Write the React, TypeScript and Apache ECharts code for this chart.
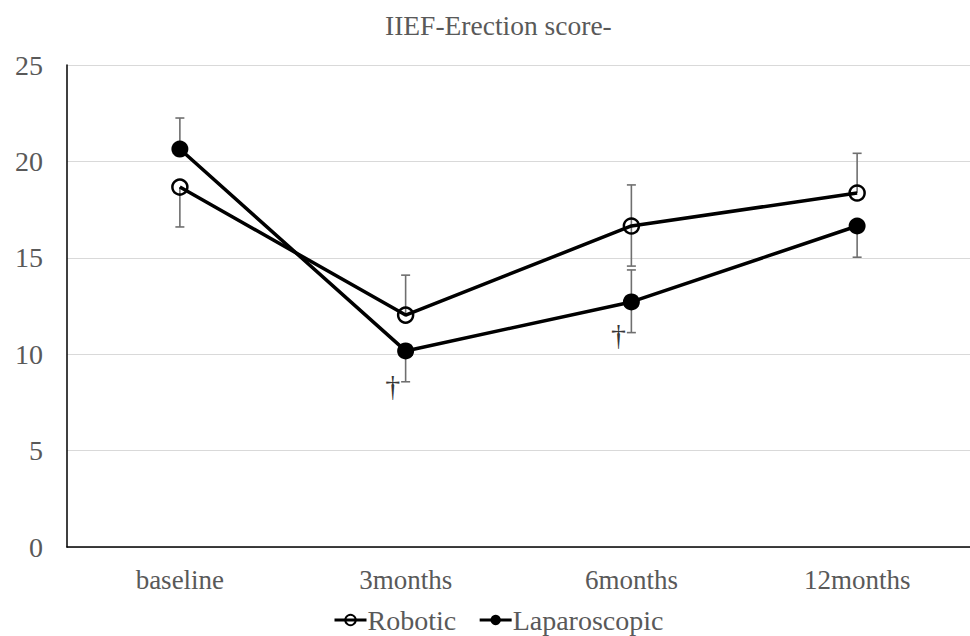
import React, { useEffect, useRef } from "react";
import * as echarts from "echarts";

const categories = ["baseline", "3months", "6months", "12months"];
const yTicks = [0, 5, 10, 15, 20, 25];
const robotic = [18.67, 12.03, 16.65, 18.36];
const laparoscopic = [20.64, 10.17, 12.71, 16.65];
// error bar ends (null = not drawn)
const roboticErrLow = [16.6, null, 14.57, null];
const roboticErrHigh = [null, 14.1, 18.78, 20.42];
const lapErrLow = [null, 8.57, 11.12, 15.03];
const lapErrHigh = [22.25, null, 14.37, null];
// significance markers: [categoryIndex, value]
const daggers = [
  [1, 8.35],
  [2, 10.95],
];

const FONT = "'Liberation Serif', 'Times New Roman', serif";
const GRAY = "#595959";

export default function App() {
  const ref = useRef<HTMLDivElement>(null);
  useEffect(() => {
    const chart = echarts.init(ref.current!, null, { renderer: "svg" });
    const errData: number[][] = [];
    const addErr = (means: number[], lows: (number | null)[], highs: (number | null)[]) => {
      means.forEach((m, j) => {
        if (lows[j] != null) errData.push([j, m, lows[j] as number]);
        if (highs[j] != null) errData.push([j, m, highs[j] as number]);
      });
    };
    addErr(robotic, roboticErrLow, roboticErrHigh);
    addErr(laparoscopic, lapErrLow, lapErrHigh);

    chart.setOption({
      animation: false,
      backgroundColor: "#ffffff",
      title: {
        text: "IIEF-Erection score-",
        left: 380,
        top: 6,
        textStyle: { fontFamily: FONT, fontSize: 27.5, fontWeight: "normal", color: GRAY },
      },
      legend: {
        top: 606,
        left: 333,
        padding: 0,
        itemWidth: 32,
        itemHeight: 13,
        itemGap: 22,
        lineStyle: { width: 3 },
        textStyle: { fontFamily: FONT, fontSize: 28, color: GRAY, padding: [0, 0, 0, -4] },
        data: ["Robotic", "Laparoscopic"],
      },
      grid: { left: 67, right: 0, top: 65, bottom: 89, containLabel: false },
      xAxis: {
        type: "category",
        data: categories,
        boundaryGap: true,
        axisLine: { show: true, lineStyle: { color: "#000", width: 1.5 } },
        axisTick: { show: false },
        axisLabel: { fontFamily: FONT, fontSize: 27, color: GRAY, margin: 19 },
      },
      yAxis: {
        type: "value",
        min: yTicks[0],
        max: yTicks[yTicks.length - 1],
        interval: 5,
        axisLine: { show: true, lineStyle: { color: "#000", width: 1.5 } },
        axisTick: { show: false },
        axisLabel: { fontFamily: FONT, fontSize: 28, color: GRAY, margin: 24 },
        splitLine: { lineStyle: { color: "#d9d9d9", width: 1.2 } },
      },
      series: [
        {
          type: "custom",
          name: "err",
          z: 1,
          silent: true,
          data: errData,
          renderItem: (params: any, api: any) => {
            const p0 = api.coord([api.value(0), api.value(1)]);
            const p1 = api.coord([api.value(0), api.value(2)]);
            const style = { stroke: "#6f6f6f", lineWidth: 1.6 };
            return {
              type: "group",
              children: [
                { type: "line", shape: { x1: p0[0], y1: p0[1], x2: p1[0], y2: p1[1] }, style },
                { type: "line", shape: { x1: p1[0] - 4.5, y1: p1[1], x2: p1[0] + 4.5, y2: p1[1] }, style },
              ],
            };
          },
        },
        {
          type: "line",
          name: "Robotic",
          data: robotic,
          z: 3,
          symbol: "circle",
          symbolSize: 15,
          lineStyle: { color: "#000", width: 3.5 },
          itemStyle: { color: "rgba(255,255,255,0)", borderColor: "#000", borderWidth: 2.5 },
        },
        {
          type: "line",
          name: "Laparoscopic",
          data: laparoscopic,
          z: 3,
          symbol: "circle",
          symbolSize: 17,
          lineStyle: { color: "#000", width: 3.5 },
          itemStyle: { color: "#000", borderColor: "#000", borderWidth: 0 },
        },
        {
          type: "scatter",
          name: "dagger",
          data: daggers,
          symbolSize: 0,
          silent: true,
          z: 4,
          label: {
            show: true,
            formatter: "†",
            position: "inside",
            offset: [-13, -1],
            fontFamily: FONT,
            fontSize: 30,
            color: "#000000",
          },
        },
      ],
    });
    return () => chart.dispose();
  }, []);
  return <div ref={ref} style={{ width: 970, height: 636, position: "absolute", left: 0, top: 0 }} />;
}
